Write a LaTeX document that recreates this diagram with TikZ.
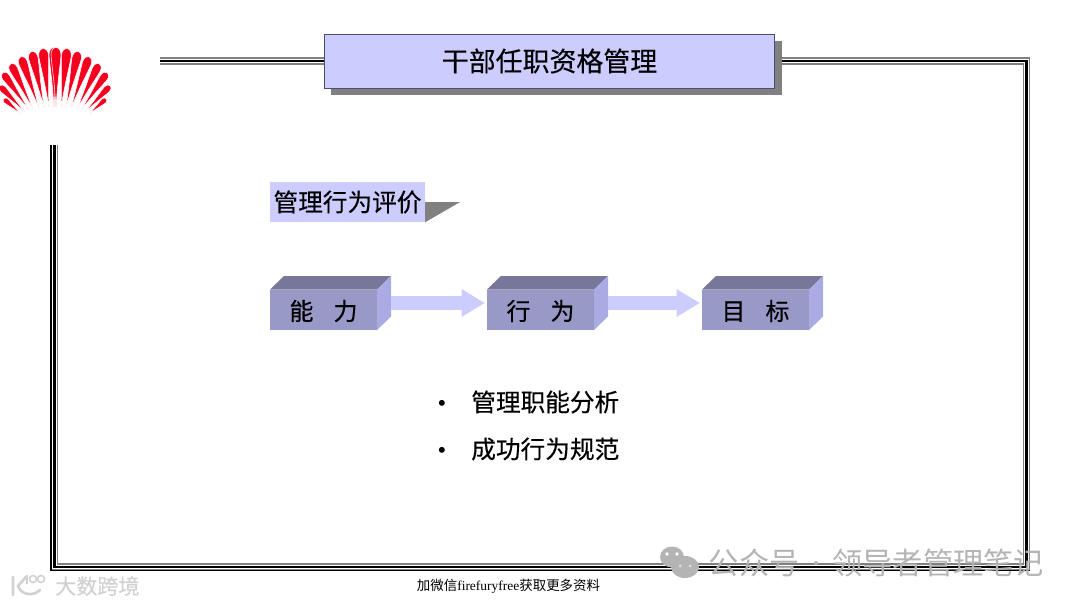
\documentclass[tikz,border=0pt]{standalone}
\usepackage{fontspec}
\setmainfont[FakeBold=0.35]{Noto Sans CJK SC}
\newfontfamily\thinfont{Noto Sans CJK SC}
\newfontfamily\footfont{Liberation Serif}
\usepackage{tikz}
\usetikzlibrary{arrows.meta}
\usetikzlibrary{positioning}
\definecolor{boxblue}{HTML}{CCCCFF}
\definecolor{boxedge}{HTML}{4C4C70}
\definecolor{cubefront}{HTML}{9999C8}
\definecolor{cubetop}{HTML}{77779A}
\definecolor{cubeside}{HTML}{ABABE3}
\definecolor{shadowgray}{HTML}{808080}
\definecolor{logored}{HTML}{F5001E}
\definecolor{markgray}{HTML}{B4B4B4}

\begin{document}
\begin{tikzpicture}[
		x=0.75pt,y=-0.75pt,
		frameline/.style={line width=#1,line join=miter},
		titlebox/.style={draw=boxedge,fill=boxblue,line width=0.7pt,minimum width=338pt,minimum height=40.5pt,inner sep=0pt,font=\fontsize{20.2}{24}\selectfont},
		subbox/.style={fill=boxblue,minimum width=116pt,minimum height=30pt,inner sep=0pt,font=\fontsize{18.5}{22}\selectfont},
		cubelbl/.style={minimum width=80.5pt,minimum height=30.5pt,inner sep=0pt,font=\fontsize{18}{22}\selectfont},
		flow/.style={boxblue,line width=10.5pt,-{Triangle[length=17.5pt,width=19.5pt]},shorten >=1.2pt},
		itemlbl/.style={inner sep=0pt,font=\fontsize{18.5}{22}\selectfont},
		wmark/.style={inner sep=0pt,text=markgray,font=\thinfont\fontsize{22.7}{26}\selectfont}
	]
	\useasboundingbox (0,0) rectangle (1080,607);

	% Logo fan: tip x/tip y/foot x/foot y/width
	\foreach \tx/\ty/\fx/\fy/\bw in {0/86/25/112/7,4/99/21/114/5.5,3/73/29/110/8,11/64/33/109/8.5,21/57/39/108/9,32/52/44/107/9.5,43/49/49/107/10,54/48/54/107/10}
	\foreach \sgn in {1,-1}
	{
		\pgfmathsetmacro{\tipx}{55+\sgn*(\tx-55)}
		\pgfmathsetmacro{\footx}{55+\sgn*(\fx-55)}
		\pgfmathsetmacro{\bl}{veclen(\tipx-\footx,\ty-\fy)}
		\pgfmathsetmacro{\ba}{atan2(\fy-\ty,\tipx-\footx)}
		\begin{scope}[shift={(\footx,\fy)},rotate=\ba]
			\filldraw[logored,draw=white,line width=0.4pt] (0,0) .. controls ({.5*\bl},{.2*\bw}) and ({.7*\bl},{.42*\bw}) .. ({.88*\bl},{.5*\bw})
			.. controls ({1.05*\bl},{.5*\bw}) and ({1.05*\bl},{-.5*\bw}) .. ({.88*\bl},{-.5*\bw})
			.. controls ({.7*\bl},{-.42*\bw}) and ({.5*\bl},{-.2*\bw}) .. (0,0) -- cycle;
		\end{scope}
	}

	% Frame, layered
	\coordinate (F0) at (160,61);
	\coordinate (F1) at (1026.5,61);
	\coordinate (F2) at (1026.5,567);
	\coordinate (F3) at (54.5,567);
	\coordinate (F4) at (54.5,145);
	\draw[frameline=5.5pt,shadowgray] (F0) -- (F1) -- (F2) -- (F3) -- (F4);
	\draw[frameline=3.2pt,white] (F0) -- (F1) -- (F2) -- (F3) -- (F4);
	\draw[frameline=2pt,black] (F0) -- (F1) -- (F2) -- (F3) -- (F4);
	% darker outer edge on the left and bottom
	\draw[frameline=0.8pt,black] (51,145) -- (51,570.5) -- (1030,570.5);

	% Title
	\fill[shadowgray] (331,41) rectangle (782,95);
	\node[titlebox] (title) at (549.5,61) {\raisebox{-0.6pt}{干部任职资格管理}};

	% Section heading
	\node[subbox] (sub) at (347.5,202) {\raisebox{-2.2pt}{管理行为评价}};
	\fill[shadowgray] (sub.east) -- ++(35,0) -- (sub.south east) -- cycle;

	% Cubes
	\foreach \nm/\fx/\txt in {abil/270/能\hspace{15pt}力,act/487/行\hspace{15pt}为,goal/702/目\hspace{15pt}标}
	{
		\fill[cubefront] (\fx,289.5) rectangle (\fx+107,330);
		\fill[cubetop] (\fx,289.5) -- (\fx+14,276) -- (\fx+121,276) -- (\fx+107,289.5) -- cycle;
		\fill[cubeside] (\fx+107,289.5) -- (\fx+121,276) -- (\fx+121,316.5) -- (\fx+107,330) -- cycle;
		\node[cubelbl] (\nm) at (\fx+53.5,311) {\txt};
		\coordinate (\nm-out) at (\fx+121,303);
	}
	\draw[flow] (abil-out) -- (abil-out -| act.west);
	\draw[flow] (act-out) -- (act-out -| goal.west);

	% Items
	\node[itemlbl,anchor=west] (item1) at (471,402) {管理职能分析};
	\node[itemlbl,anchor=west] (item2) at (471,449) {成功行为规范};
	\node[itemlbl] (dot1) at (442,405.5) {\footfont •};
	\node[itemlbl] (dot2) at (442,452.5) {\footfont •};

	% Footer and marks
	\node[inner sep=0pt,font=\thinfont\fontsize{10.1}{12}\selectfont] (foot) at (508.5,586) {加微信{\footfont firefuryfree}获取更多资料};
	\fill[markgray] (672,557) ellipse (12 and 10.5);
	\fill[markgray] (685,567) ellipse (14 and 11);
	\fill[white] (667,554) circle (1.8) (677,554) circle (1.8);
	\fill[white!60!markgray] (680,566) circle (1.5) (690,566) circle (1.5);
	\node[wmark,anchor=west] (gzh) at (708.5,563) {公众号};
	\fill[markgray] (816,563) circle (2);
	\node[wmark,anchor=west] (lingdao) at (832,563) {领导者管理笔记};

	% Second mark, pale
	\draw[black!18,line width=2pt,line cap=round] (13,577) -- (13,595) (26,577) -- (18,586) .. controls (22,596) and (34,596) .. (40,590);
	\draw[black!18,line width=1.2pt] (27,575) -- (27,584) (33,579) circle (3.5) (41,579) circle (3.5);
	\node[inner sep=0pt,anchor=west,text=black!18,font=\fontsize{15.8}{18}\selectfont] (dashu) at (55,586) {大数跨境};
\end{tikzpicture}
\end{document}
